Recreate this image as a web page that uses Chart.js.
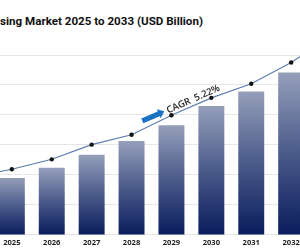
<!DOCTYPE html>
<html><head><meta charset="utf-8">
<script src="https://cdn.jsdelivr.net/npm/chart.js@4.4.1/dist/chart.umd.min.js"></script>
<style>
html,body{margin:0;padding:0;width:300px;height:250px;overflow:hidden;background:#fff;}
#title{position:absolute;left:0;top:14px;font:bold 11.6px Roboto,"Liberation Sans",Arial,sans-serif;color:#111;white-space:nowrap;}
#wrap{position:absolute;left:-52px;top:0;width:407px;height:250px;}
</style></head><body>
<div id="title">sing Market 2025 to 2033 (USD Billion)</div>
<div id="wrap"><canvas id="c"></canvas></div>
<script>
const years = ['2024','2025','2026','2027','2028','2029','2030','2031','2032','2033'];
const marketValues = [1.62,1.90,2.24,2.67,3.13,3.66,4.30,4.78,5.42,5.95];
const trendValues = [1.92,2.19,2.52,3.01,3.34,3.99,4.57,5.04,5.75,6.63];
const hiddenLabels = ['2024'];
const cagrText = 'CAGR  5.22%';
const yMin = 0, yMax = 6, yStep = 1;

const cagrPlugin = {
  id: 'cagr',
  afterDatasetsDraw(chart) {
    const {ctx, scales: {x, y}} = chart;
    const px = i => x.getPixelForValue(4) + (x.getPixelForValue(5) - x.getPixelForValue(4)) * i;
    const x1 = px(0.27), y1 = y.getPixelForValue(3.80);
    const x2 = px(0.82), y2 = y.getPixelForValue(4.12);
    const ang = Math.atan2(y2 - y1, x2 - x1);
    const len = Math.hypot(x2 - x1, y2 - y1);
    ctx.save();
    ctx.translate(x1, y1);
    ctx.rotate(ang);
    ctx.fillStyle = '#1a72c4';
    ctx.beginPath();
    ctx.moveTo(0, -2.6);
    ctx.lineTo(len - 6, -2.6);
    ctx.lineTo(len - 6, -4.8);
    ctx.lineTo(len, 0);
    ctx.lineTo(len - 6, 4.8);
    ctx.lineTo(len - 6, 2.6);
    ctx.lineTo(0, 2.6);
    ctx.closePath();
    ctx.fill();
    ctx.restore();
    const tx = px(0.92), ty = y.getPixelForValue(4.05);
    ctx.save();
    ctx.translate(tx, ty);
    ctx.rotate(-0.42);
    ctx.font = '600 9.5px "Open Sans", "DejaVu Sans", sans-serif';
    ctx.fillStyle = '#222';
    ctx.textBaseline = 'alphabetic';
    ctx.fillText(cagrText, 0, 0);
    ctx.restore();
  }
};

new Chart(document.getElementById('c'), {
  data: {
    labels: years,
    datasets: [
      {
        type: 'line', data: trendValues, order: 0, clip: false,
        borderColor: '#5a7cb0', borderWidth: 1.1, tension: 0,
        pointRadius: 2.2, pointBackgroundColor: '#111', pointBorderWidth: 0
      },
      {
        type: 'bar', data: marketValues, order: 1,
        categoryPercentage: 1, barPercentage: 0.65,
        backgroundColor: (c) => {
          const chart = c.chart; const {chartArea, scales} = chart;
          if (!chartArea || c.raw === undefined) return '#3a4a7a';
          const top = scales.y.getPixelForValue(c.raw), bottom = scales.y.getPixelForValue(0);
          const g = chart.ctx.createLinearGradient(0, top, 0, bottom);
          g.addColorStop(0, '#959fba');
          g.addColorStop(0.5, '#4a5a8a');
          g.addColorStop(1, '#0a1c5c');
          return g;
        }
      }
    ]
  },
  options: {
    responsive: true, maintainAspectRatio: false, animation: false,
    layout: {padding: {top: 55, left: 0, right: 0, bottom: 0}},
    plugins: {legend: {display: false}, tooltip: {enabled: false}, title: {display: false}},
    scales: {
      x: {
        grid: {display: false, drawTicks: false}, border: {display: false},
        ticks: {
          padding: 3, color: '#222', maxRotation: 0, autoSkip: false,
          font: {family: '"Open Sans", "DejaVu Sans", sans-serif', size: 7.6, weight: 'bold'},
          callback: function(v) { const l = this.getLabelForValue(v); return hiddenLabels.includes(l) ? '' : l; }
        }
      },
      y: {
        min: yMin, max: yMax,
        ticks: {display: false, stepSize: yStep},
        grid: {color: '#e6e6e6', drawTicks: false, lineWidth: 1},
        border: {display: false}
      }
    }
  },
  plugins: [cagrPlugin]
});
</script>
</body></html>
